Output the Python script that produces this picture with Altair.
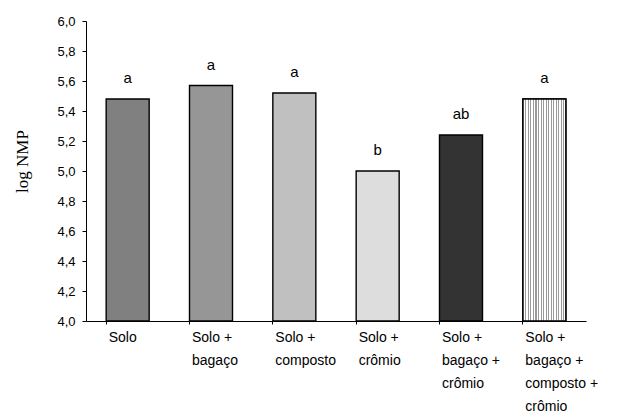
import altair as alt
import pandas as pd

categories = [
    "Solo",
    "Solo +\nbagaço",
    "Solo +\ncomposto",
    "Solo +\ncrômio",
    "Solo +\nbagaço +\ncrômio",
    "Solo +\nbagaço +\ncomposto +\ncrômio",
]
values = [5.48, 5.57, 5.52, 5.00, 5.24, 5.48]
letters = ["a", "a", "a", "b", "ab", "a"]
fills = ["#808080", "#969696", "#c0c0c0", "#dddddd", "#333333", "#ffffff"]
y_ticks = [4.0, 4.2, 4.4, 4.6, 4.8, 5.0, 5.2, 5.4, 5.6, 5.8, 6.0]
y_base = 4.0

df = pd.DataFrame({"cat": categories, "val": values, "let": letters})

# vertical hatch pattern for the last bar, built as a sharp-stop gradient
n_stripes = 17
stops = []
for i in range(n_stripes):
    a = i / n_stripes
    b = (i + 0.42) / n_stripes
    c = (i + 1) / n_stripes
    stops += [
        alt.GradientStop(offset=a, color="#9a9a9a"),
        alt.GradientStop(offset=b, color="#9a9a9a"),
        alt.GradientStop(offset=b, color="#ffffff"),
        alt.GradientStop(offset=c, color="#ffffff"),
    ]
hatch = alt.LinearGradient(gradient="linear", stops=stops, x1=0, x2=1, y1=0, y2=0)

x_scale = alt.Scale(domain=categories, paddingInner=0.484, paddingOuter=0.242)
y_scale = alt.Scale(domain=[4.0, 6.0], nice=False, zero=False)

x_axis = alt.Axis(
    title=None,
    bandPosition=0,
    labelAngle=0,
    labelAlign="left",
    labelBaseline="top",
    labelOffset=-19,
    labelPadding=6,
    labelFont="Liberation Sans",
    labelFontSize=14,
    labelColor="#000000",
    labelLineHeight=23,
    labelExpr="split(datum.label, '\\n')",
    tickSize=3,
    tickColor="#000000",
    domainColor="#000000",
    domainWidth=1,
    labelLimit=200,
)

y_axis = alt.Axis(
    title="log NMP",
    titleFont="Liberation Serif",
    titleFontSize=17,
    titleFontWeight="normal",
    titleColor="#000000",
    titleX=-64,
    titleY=140,
    titleAlign="center",
    titleBaseline="middle",
    titleAngle=270,
    values=y_ticks,
    labelOverlap=False,
    labelExpr="replace(format(datum.value, '.1f'), '.', ',')",
    labelFont="Liberation Sans",
    labelFontSize=13,
    labelColor="#000000",
    labelPadding=7,
    tickSize=4,
    tickColor="#000000",
    domainColor="#000000",
    grid=False,
)

x_enc = alt.X("cat:N", scale=x_scale, sort=categories, axis=x_axis)
y_enc = alt.Y("val:Q", scale=y_scale, axis=y_axis)

base = alt.Chart(df)

bars = base.mark_bar(stroke="#000000", strokeWidth=1.4).encode(
    x=x_enc,
    y=y_enc,
    y2=alt.datum(y_base),
    fill=alt.Fill("cat:N", scale=alt.Scale(domain=categories, range=fills), legend=None),
)

hatched = (
    base.transform_filter(alt.datum.cat == categories[-1])
    .mark_bar(stroke="#000000", strokeWidth=1.4, fill=hatch)
    .encode(x=x_enc, y=y_enc, y2=alt.datum(y_base))
)

text = base.mark_text(
    font="Liberation Sans", fontSize=15, color="#000000", baseline="alphabetic", dy=-16
).encode(
    x=x_enc,
    y=y_enc,
    text="let:N",
)

chart = (
    alt.layer(bars, hatched, text)
    .properties(
        width=500,
        height=300,
        autosize=alt.AutoSizeParams(type="none"),
        padding={"left": 78, "top": 13, "right": 36, "bottom": 95},
        background="#ffffff",
    )
    .configure_view(stroke=None)
)

chart.save("out.html", embed_options={"renderer": "svg", "actions": False})
